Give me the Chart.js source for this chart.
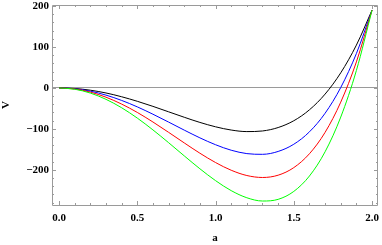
<!DOCTYPE html>
<html>
<head>
<meta charset="utf-8">
<script src="https://cdn.jsdelivr.net/npm/chart.js@4"></script>
<style>
  html, body { margin: 0; padding: 0; background: #fff; }
  #wrap { width: 382px; height: 245px; position: relative; }
</style>
</head>
<body>
<div id="wrap"><canvas id="potChart"></canvas></div>
<script>
// a values (x axis)
const aValues = [0, 0.1, 0.2, 0.3, 0.4, 0.5, 0.6, 0.7, 0.8, 0.9, 1.0,
                 1.1, 1.2, 1.3, 1.4, 1.5, 1.6, 1.7, 1.8, 1.9, 2.0];
// V
const vBlack = [0, -1.4, -5.6, -12.4, -21.6, -32.7, -45.1, -58.4, -71.7, -84.3, -95,
                -102.9, -106.7, -105.2, -96.8, -80.2, -53.5, -15.1, 36.9, 104.6, 190];
const vBlue  = [0, -2.0, -7.9, -17.6, -30.6, -46.3, -64.3, -83.5, -103.1, -122.0, -138.8,
                -152.2, -160.5, -162.2, -155.2, -137.6, -107.3, -61.9, 1.0, 84.0, 190];
const vRed   = [0, -2.6, -10.2, -22.7, -39.5, -59.9, -83.3, -108.5, -134.3, -159.5, -182.3,
                -201.1, -214.0, -218.8, -213.2, -194.7, -160.8, -108.5, -34.7, 63.6, 190];
const vGreen = [0, -3.2, -12.6, -27.9, -48.5, -73.7, -102.6, -133.8, -166.0, -197.5, -226.5,
                -250.9, -268.3, -276.3, -272.2, -252.8, -215.2, -155.9, -71.2, 42.6, 190];

const xTicks = [0, 0.5, 1.0, 1.5, 2.0];
const xTickLabels = ["0.0", "0.5", "1.0", "1.5", "2.0"];
const yTicks = [-200, -100, 0, 100, 200];
const yTickLabels = ["\u2212200", "\u2212100", "0", "100", "200"];

const frameColor = "#9a9a9a";
const labelFont = { family: "Liberation Serif", size: 11, weight: "bold" };

function pts(vs) { return aValues.map((a, i) => ({ x: a, y: vs[i] })); }

// Mathematica-style frame with inward ticks on all four sides
const framePlugin = {
  id: "frame",
  afterDatasetsDraw(chart) {
    const { ctx, chartArea: ca, scales: { x, y } } = chart;
    ctx.save();
    ctx.strokeStyle = frameColor;
    ctx.lineWidth = 1;
    ctx.beginPath();
    ctx.rect(Math.round(ca.left) + 0.5, Math.round(ca.top) + 0.5,
             Math.round(ca.right - ca.left) - 1, Math.round(ca.bottom - ca.top));
    ctx.stroke();
    ctx.beginPath();
    for (let i = 0; i <= 20; i++) {
      const v = i / 10;
      const px = Math.round(x.getPixelForValue(v)) + 0.5;
      const len = i % 5 === 0 ? 4 : 2;
      ctx.moveTo(px, ca.bottom); ctx.lineTo(px, ca.bottom - len);
      ctx.moveTo(px, ca.top); ctx.lineTo(px, ca.top + len);
    }
    for (let v = -280; v <= 200; v += 20) {
      const py = Math.round(y.getPixelForValue(v)) + 0.5;
      const len = v % 100 === 0 ? 4 : 2;
      ctx.moveTo(ca.left, py); ctx.lineTo(ca.left + len, py);
      ctx.moveTo(ca.right, py); ctx.lineTo(ca.right - len, py);
    }
    ctx.stroke();
    ctx.restore();
  }
};

function line(color, vs) {
  return {
    data: pts(vs),
    borderColor: color,
    borderWidth: 1,
    pointRadius: 0,
    cubicInterpolationMode: "monotone",
    fill: false
  };
}

new Chart(document.getElementById("potChart").getContext("2d"), {
  type: "line",
  data: {
    datasets: [
      line("#00ff00", vGreen),
      line("#ff0000", vRed),
      line("#0000ff", vBlue),
      line("#000000", vBlack)
    ]
  },
  options: {
    responsive: true,
    maintainAspectRatio: false,
    animation: false,
    layout: { padding: { top: 5, right: 4, left: 0, bottom: 0 } },
    plugins: { legend: { display: false }, tooltip: { enabled: false } },
    scales: {
      x: {
        type: "linear",
        min: -0.045, max: 2.038,
        afterBuildTicks: s => { s.ticks = xTicks.map(v => ({ value: v })); },
        afterFit: s => { s.height = 40; s.paddingLeft = 0; s.paddingRight = 0; },
        grid: { display: false, drawTicks: false },
        border: { display: false },
        ticks: {
          padding: 7, color: "#000", font: labelFont, maxRotation: 0,
          callback: v => xTickLabels[xTicks.indexOf(v)]
        },
        title: { display: true, text: "a", color: "#000", font: labelFont, padding: { top: 0, bottom: 0 } }
      },
      y: {
        min: -286, max: 202.5,
        afterBuildTicks: s => { s.ticks = yTicks.map(v => ({ value: v })); },
        afterFit: s => { s.width = 52; s.paddingTop = 0; s.paddingBottom = 0; },
        grid: {
          drawTicks: false,
          color: c => (c.tick && c.tick.value === 0 ? frameColor : "rgba(0,0,0,0)")
        },
        border: { display: false },
        ticks: {
          padding: 3, color: "#000", font: labelFont,
          callback: v => yTickLabels[yTicks.indexOf(v)]
        },
        title: { display: true, text: "V", color: "#000", font: labelFont, padding: { top: 0, bottom: 0 } }
      }
    }
  },
  plugins: [framePlugin]
});
</script>
</body>
</html>
